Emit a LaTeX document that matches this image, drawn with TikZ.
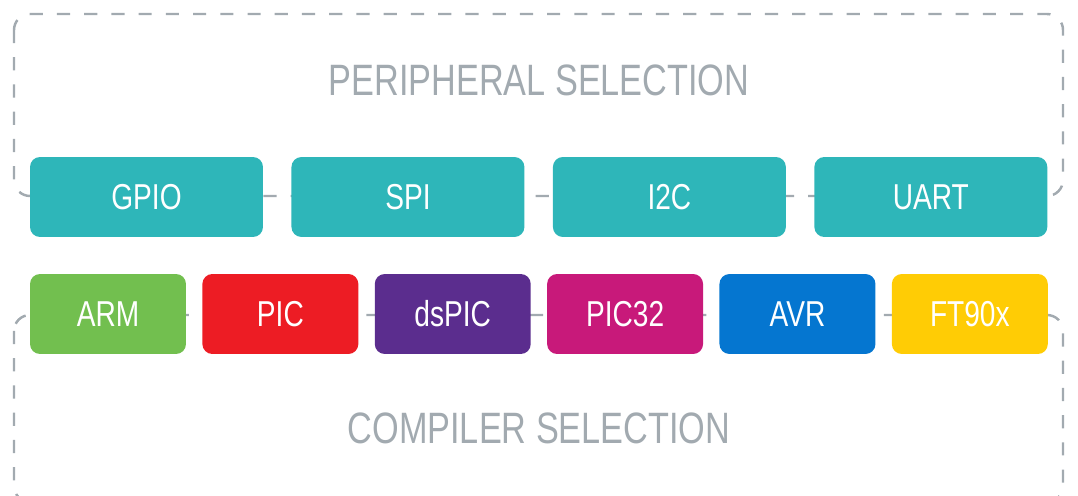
\documentclass[tikz,border=0pt]{standalone}
\usepackage{fontspec}
\setmainfont[FakeStretch=0.78]{Liberation Sans}
\usetikzlibrary{positioning}
\definecolor{frameGray}{HTML}{A2AAB0}
\definecolor{tealBox}{HTML}{2EB6B9}
\definecolor{armGreen}{HTML}{72BF4F}
\definecolor{picRed}{HTML}{ED1C24}
\definecolor{dspicPurple}{HTML}{5B2D8E}
\definecolor{pic32Pink}{HTML}{C8197A}
\definecolor{avrBlue}{HTML}{0576D0}
\definecolor{ftYellow}{HTML}{FFCC05}
\tikzset{
  group/.style={draw=frameGray,line width=1.4pt,dash pattern=on 7.5pt off 8pt,rounded corners=0.32cm},
  title/.style={text=frameGray,font=\fontsize{25}{30}\selectfont},
  periph/.style={fill=tealBox,text=white,rounded corners=0.2cm,minimum width=4.66cm,minimum height=1.6cm,font=\fontsize{20.5}{24}\selectfont},
  chip/.style={text=white,rounded corners=0.2cm,minimum width=3.12cm,minimum height=1.6cm,font=\fontsize{20.5}{24}\selectfont}
}

\begin{document}
\begin{tikzpicture}[x=0.02cm,y=-0.02cm,on grid]
 \useasboundingbox (0,0) rectangle (1078,496);
 \begin{scope}
 \clip (0,0) rectangle (1078,496);
 \draw[group] (14,14) rectangle (1063,196);
 \draw[group] (14,315) rectangle (1063,502);
 \end{scope}
 \node[title] (periphtitle) at (539,80) {PERIPHERAL SELECTION};
 \node[title] (comptitle) at (539,428) {COMPILER SELECTION};
 \begin{scope}[node distance=5.23cm]
 \node[periph] (gpio) at (146.5,197) {GPIO};
 \node[periph] (spi) [right=of gpio] {SPI};
 \node[periph] (i2c) [right=of spi] {I2C};
 \node[periph] (uart) [right=of i2c] {UART};
 \end{scope}
 \begin{scope}[node distance=3.448cm]
 \node[chip,fill=armGreen] (arm) at (108,314) {ARM};
 \node[chip,fill=picRed] (pic) [right=of arm] {PIC};
 \node[chip,fill=dspicPurple] (dspic) [right=of pic] {dsPIC};
 \node[chip,fill=pic32Pink] (pic32) [right=of dspic] {PIC32};
 \node[chip,fill=avrBlue] (avr) [right=of pic32] {AVR};
 \node[chip,fill=ftYellow] (ft90x) [right=of avr] {FT90x};
 \end{scope}
\end{tikzpicture}
\end{document}
